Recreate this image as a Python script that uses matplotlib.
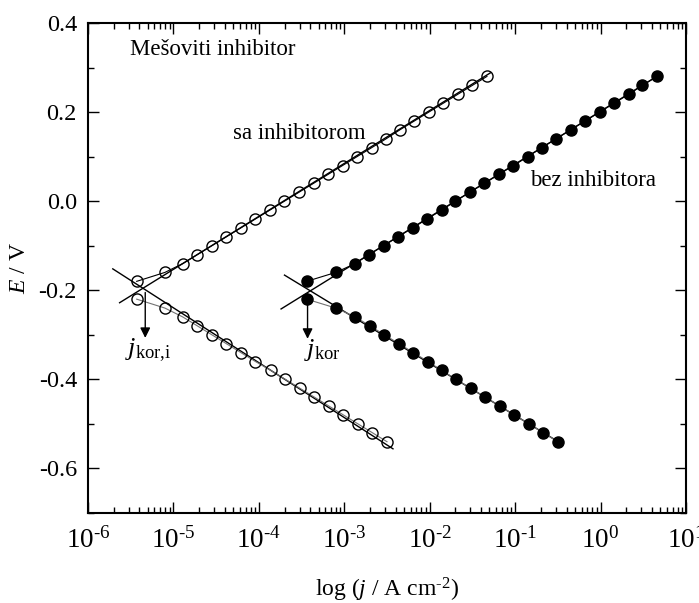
import numpy as np
import matplotlib
matplotlib.use("Agg")
import matplotlib.pyplot as plt
from matplotlib.ticker import LogLocator, MultipleLocator, NullFormatter

plt.rcParams['font.family'] = 'Liberation Serif'
plt.rcParams['mathtext.fontset'] = 'custom'
plt.rcParams['mathtext.rm'] = 'Liberation Serif'
plt.rcParams['mathtext.it'] = 'Liberation Serif:italic'
plt.rcParams['axes.unicode_minus'] = False

# sa inhibitorom (open circles), log j vs E
E_an_inh = [-0.18, -0.16, -0.14, -0.12, -0.10, -0.08, -0.06, -0.04, -0.02, 0.00, 0.02, 0.04,
            0.06, 0.08, 0.10, 0.12, 0.14, 0.16, 0.18, 0.20, 0.22, 0.24, 0.26, 0.28]
logj_an_inh = [-5.43, -5.10, -4.89, -4.72, -4.55, -4.38, -4.21, -4.04, -3.87, -3.70, -3.53, -3.36,
               -3.19, -3.02, -2.85, -2.68, -2.51, -2.35, -2.18, -2.01, -1.84, -1.67, -1.50, -1.33]
E_cat_inh = [-0.22, -0.24, -0.26, -0.28, -0.30, -0.32, -0.34, -0.36, -0.38, -0.40, -0.42, -0.44,
             -0.46, -0.48, -0.50, -0.52, -0.54]
logj_cat_inh = [-5.43, -5.10, -4.89, -4.72, -4.55, -4.38, -4.21, -4.04, -3.86, -3.69, -3.52, -3.35,
                -3.18, -3.01, -2.84, -2.67, -2.50]

# bez inhibitora (filled circles)
E_an = E_an_inh
logj_an = [-3.44, -3.10, -2.87, -2.71, -2.54, -2.37, -2.20, -2.03, -1.86, -1.70, -1.53, -1.36,
           -1.19, -1.02, -0.85, -0.69, -0.52, -0.35, -0.18, -0.01, 0.16, 0.33, 0.49, 0.66]
E_cat = E_cat_inh
logj_cat = [-3.44, -3.10, -2.87, -2.70, -2.53, -2.36, -2.19, -2.02, -1.86, -1.69, -1.52, -1.35,
            -1.18, -1.01, -0.84, -0.67, -0.50]

# Tafel lines (log j, E) end points
tafel_an_inh = ([-5.63, -1.29], [-0.228, 0.288])
tafel_cat_inh = ([-5.71, -2.43], [-0.152, -0.556])
tafel_an = ([-3.74, 0.70], [-0.242, 0.285])
tafel_cat = ([-3.70, -0.47], [-0.166, -0.543])

# corrosion current markers (log j_kor, E start, E end)
kor_inh = (-5.33, -0.205, -0.307)
kor = (-3.43, -0.208, -0.309)

fig = plt.figure(figsize=(6.99, 6.03), dpi=100)
ax = fig.add_axes([0.1259, 0.1493, 0.8555, 0.8126])

for lj, E in [tafel_an_inh, tafel_cat_inh, tafel_an, tafel_cat]:
    ax.plot(10 ** np.array(lj), E, color='black', lw=1.0, zorder=2)

ax.plot(10 ** np.array(logj_an_inh), E_an_inh, '-o', color='black', lw=0.8, ms=8,
        mfc='none', mec='black', mew=1.0, zorder=3)
ax.plot(10 ** np.array(logj_cat_inh), E_cat_inh, '-o', color='0.45', lw=0.8, ms=8,
        mfc='none', mec='black', mew=1.0, zorder=3)
ax.plot(10 ** np.array(logj_an), E_an, '-o', color='black', lw=0.8, ms=8,
        mfc='black', mec='black', zorder=3)
ax.plot(10 ** np.array(logj_cat), E_cat, '-o', color='0.45', lw=0.8, ms=8,
        mfc='black', mec='black', zorder=3)

for lj, e0, e1 in [kor_inh, kor]:
    ax.annotate('', xy=(10 ** lj, e1), xytext=(10 ** lj, e0),
                arrowprops=dict(arrowstyle='-|>', color='0.3', lw=1.0, mutation_scale=15,
                                shrinkA=0, shrinkB=0, fc='black', ec='black'))

ax.set_xscale('log')
ax.set_xlim(1e-6, 1e1)
ax.set_ylim(-0.7, 0.4)
ax.xaxis.set_major_locator(LogLocator(base=10, numticks=20))
ax.xaxis.set_minor_locator(LogLocator(base=10, subs=np.arange(2, 10), numticks=20))
ax.xaxis.set_major_formatter(plt.FuncFormatter(
    lambda v, p: r'$10^{\text{%d}}$' % round(np.log10(v)) if round(np.log10(v)) >= 0
    else r'$10^{\text{-%d}}$' % -round(np.log10(v))))
ax.xaxis.set_minor_formatter(NullFormatter())
ax.yaxis.set_major_locator(MultipleLocator(0.2))
ax.yaxis.set_minor_locator(MultipleLocator(0.1))
ax.yaxis.set_major_formatter(plt.FuncFormatter(lambda v, p: f'{v:.1f}'))

ax.tick_params(which='both', direction='in', top=True, right=True, width=1.0)
ax.tick_params(which='major', length=8)
ax.tick_params(which='minor', length=4)
ax.tick_params(axis='y', which='major', labelsize=17.5, pad=8)
ax.tick_params(axis='x', which='major', labelsize=19.5, pad=10)
for s in ax.spines.values():
    s.set_linewidth(1.5)

ax.text(0.070, 0.945, 'Mešoviti inhibitor', transform=ax.transAxes, fontsize=16.5, va='center')
ax.text(0.2425, 0.775, 'sa inhibitorom', transform=ax.transAxes, fontsize=16.5, va='center')
ax.text(0.739, 0.678, 'bez inhibitora', transform=ax.transAxes, fontsize=16.5, va='center')
ax.text(0.062, 0.333, r'$j_{\text{kor,i}}$', transform=ax.transAxes, fontsize=19, va='center')
ax.text(0.362, 0.333, r'$j_{\text{kor}}$', transform=ax.transAxes, fontsize=19, va='center')

ax.set_xlabel(r'log ($j$ / A cm$^{\text{-2}}$)', fontsize=17, labelpad=16)
ax.set_ylabel(r'$E$ / V', fontsize=17, labelpad=6)

fig.savefig('out.png', dpi=100)
